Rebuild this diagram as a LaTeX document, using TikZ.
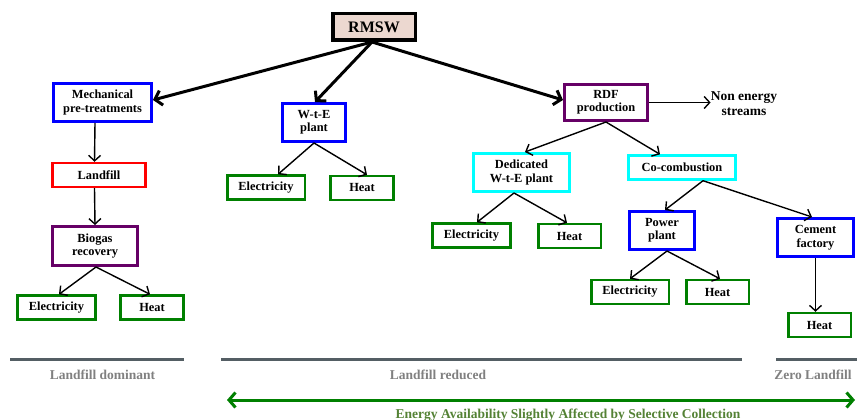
\documentclass[tikz,border=0pt]{standalone}
\usepackage{fontspec}
\setmainfont{Liberation Serif}
\usetikzlibrary{arrows.meta}
\definecolor{bxblue}{RGB}{0,0,255}
\definecolor{bxred}{RGB}{255,0,0}
\definecolor{bxpurple}{RGB}{102,0,102}
\definecolor{bxcyan}{RGB}{0,255,255}
\definecolor{bxgreen}{RGB}{0,128,0}
\definecolor{rmswfill}{RGB}{236,216,208}
\definecolor{bargray}{RGB}{84,94,100}
\definecolor{labgray}{RGB}{128,128,128}
\definecolor{textgreen}{RGB}{84,130,53}
\begin{document}
\begin{tikzpicture}[x=1pt,y=-1pt,
  box/.style={draw, line width=2.6pt, fill=white, align=center, inner sep=0pt,
    font=\bfseries\fontsize{12.4}{13.5}\selectfont},
  twoline/.style={minimum height=38.4pt},
  oneline/.style={minimum height=23.8pt},
  elecbox/.style={box, draw=bxgreen, oneline, minimum width=77.6pt},
  heatbox/.style={box, draw=bxgreen, oneline, minimum width=62.6pt},
  thinarr/.style={line width=1.4pt, -{Straight Barb[length=5.5pt,width=12pt]}},
  bigarr/.style={line width=3pt, -{Straight Barb[length=6.5pt,width=15pt]}},
  bar/.style={line width=3pt, bargray},
  lab/.style={anchor=base, text=labgray, font=\bfseries\fontsize{13.5}{16}\selectfont},
]
\useasboundingbox (0,0) rectangle (857,420);

% nodes
\node[box, line width=3.5pt, fill=rmswfill, minimum width=82.5pt, minimum height=26.5pt,
  font=\bfseries\fontsize{16}{18}\selectfont] (rmsw) at (374,27) {RMSW};
\node[box, draw=bxblue, twoline, minimum width=98.4pt] (mech) at (102.5,102.5) {Mechanical\\pre-treatments};
\node[box, draw=bxblue, twoline, minimum width=63.4pt] (wte) at (314,122.5) {W-t-E\\plant};
\node[box, draw=bxpurple, minimum width=83.4pt, minimum height=36.4pt] (rdf) at (606,102.5) {RDF\\production};
\node[align=center, inner sep=0pt, font=\bfseries\fontsize{13.5}{15}\selectfont] (nonen) at (744,104) {Non energy\\streams};
\node[box, draw=bxred, oneline, minimum width=93.4pt] (landfill) at (99,175) {Landfill};
\node[box, draw=bxpurple, minimum width=85.4pt, minimum height=39.4pt] (biogas) at (95,246) {Biogas\\recovery};
\node[elecbox] (e1) at (56.5,307.5) {Electricity};
\node[heatbox] (h1) at (152,307.5) {Heat};
\node[elecbox] (e2) at (266,187.5) {Electricity};
\node[heatbox] (h2) at (362,188) {Heat};
\node[box, draw=bxcyan, twoline, minimum width=96.4pt] (ded) at (521.5,172.5) {Dedicated\\W-t-E plant};
\node[box, draw=bxcyan, oneline, minimum width=107.4pt] (cocomb) at (682,167.5) {Co-combustion};
\node[elecbox] (e3) at (471.5,235.5) {Electricity};
\node[heatbox] (h3) at (569.5,236) {Heat};
\node[box, draw=bxblue, twoline, minimum width=65.4pt] (power) at (662,230.5) {Power\\plant};
\node[box, draw=bxblue, twoline, minimum width=76.4pt] (cement) at (815.5,237.5) {Cement\\factory};
\node[elecbox] (e4) at (630,292) {Electricity};
\node[heatbox] (h4) at (717.5,292) {Heat};
\node[heatbox] (h5) at (819.5,325) {Heat};

% thick arrows from RMSW
\draw[bigarr] ([xshift=-2pt]rmsw.south) -- ([yshift=2.5pt]mech.east);
\draw[bigarr] ([xshift=-2pt]rmsw.south) -- ([xshift=1pt]wte.north);
\draw[bigarr] ([xshift=-2pt]rmsw.south) -- ([yshift=2.5pt]rdf.west);

% thin arrows
\draw[thinarr] ([xshift=-7.5pt]mech.south) -- ([xshift=-4.5pt]landfill.north);
\draw[thinarr] ([xshift=-4.5pt]landfill.south) -- (biogas.north);
\draw[thinarr] ([xshift=1pt]biogas.south) -- ([xshift=2.5pt]e1.north);
\draw[thinarr] ([xshift=1pt]biogas.south) -- ([xshift=-2pt]h1.north);
\draw[thinarr] (wte.south) -- ([xshift=12pt]e2.north);
\draw[thinarr] (wte.south) -- ([xshift=5pt]h2.north);
\draw[thinarr] (rdf.east) -- (rdf.east -| nonen.west);
\draw[thinarr] (rdf.south) -- ([xshift=3.5pt]ded.north);
\draw[thinarr] (rdf.south) -- ([xshift=-22pt]cocomb.north);
\draw[thinarr] ([xshift=-7.5pt]ded.south) -- ([xshift=5.5pt]e3.north);
\draw[thinarr] ([xshift=-7.5pt]ded.south) -- ([xshift=-2.5pt]h3.north);
\draw[thinarr] ([xshift=21pt]cocomb.south) -- ([xshift=3pt]power.north);
\draw[thinarr] ([xshift=21pt]cocomb.south) -- ([xshift=-3.5pt]cement.north);
\draw[thinarr] ([xshift=5pt]power.south) -- (e4.north);
\draw[thinarr] ([xshift=5pt]power.south) -- ([xshift=2.5pt]h4.north);
\draw[thinarr] (cement.south) -- (cement.south |- h5.north);

% bottom scale
\draw[bar] (10,359.5) -- (184,359.5);
\draw[bar] (221,359.5) -- (742,359.5);
\draw[bar] (776,359.5) -- (857,359.5);
\node[lab] (l1) at (102.5,379) {Landfill dominant};
\node[lab] (l2) at (438,379) {Landfill reduced};
\node[lab] (l3) at (813,379) {Zero Landfill};

\coordinate (gl) at (227,400);
\coordinate (gr) at (855,400);
\draw[line width=3pt, bxgreen, {Straight Barb[length=6.5pt,width=15pt]}-{Straight Barb[length=6.5pt,width=15pt]}] (gl) -- (gr);
\node[anchor=base, text=textgreen, font=\bfseries\fontsize{13.5}{16}\selectfont] (gtxt) at (568,418.5)
  {Energy Availability Slightly Affected by Selective Collection};
\end{tikzpicture}
\end{document}
